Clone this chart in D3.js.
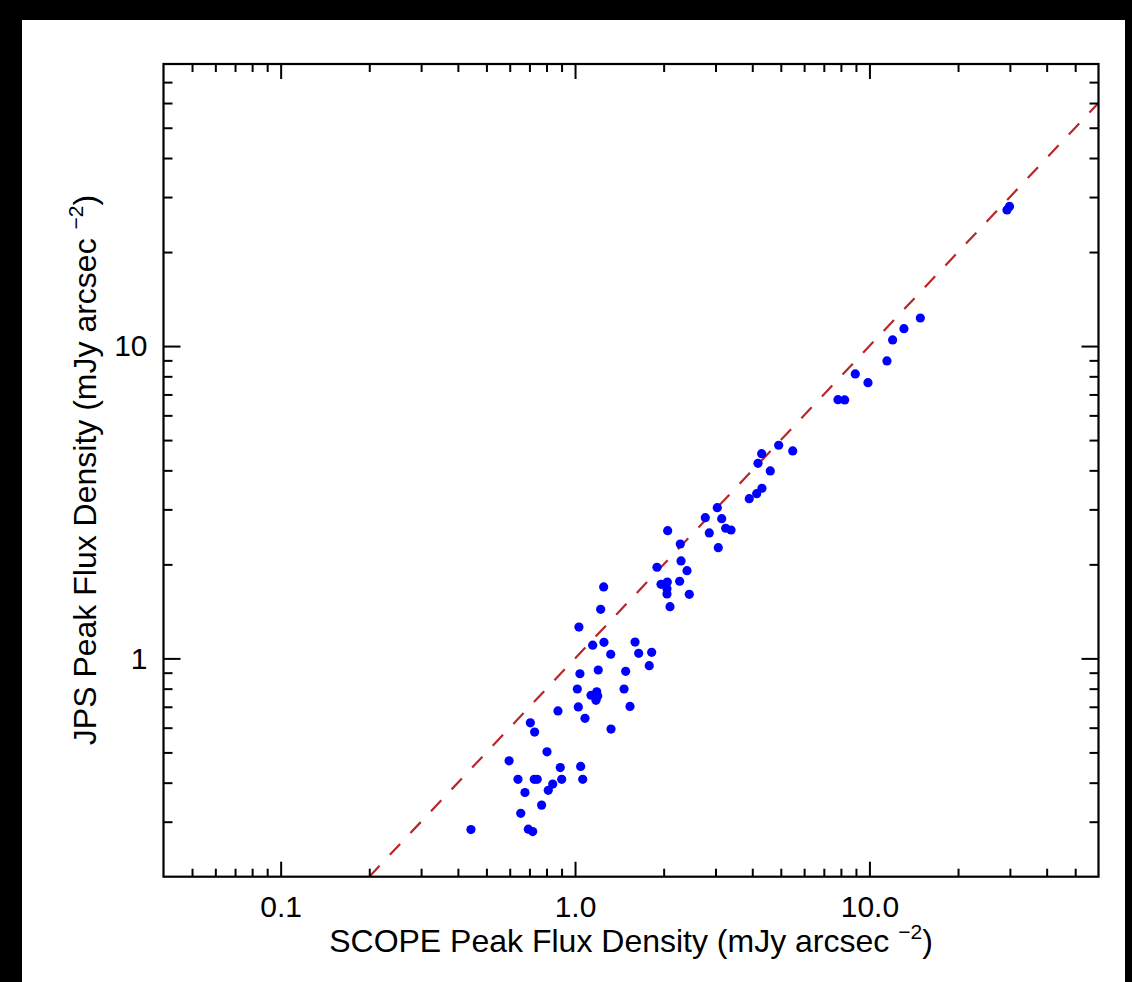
<!DOCTYPE html>
<html>
<head>
<meta charset="utf-8">
<script src="https://cdn.jsdelivr.net/npm/d3@7"></script>
<style>
  html, body { margin: 0; padding: 0; background: #000; }
  svg { display: block; }
  text { font-family: "Liberation Sans", Arial, Helvetica, sans-serif; fill: #000; }
</style>
</head>
<body>
<script>
// SCOPE peak flux density (x) vs JPS peak flux density (y), mJy arcsec^-2
var scopeFlux = [0.443, 0.597, 0.640, 0.654, 0.676, 0.694, 0.718, 0.705, 0.729, 0.727,
  0.744, 0.770, 0.803, 0.811, 0.840, 0.875, 0.891, 0.901, 1.018, 1.031,
  1.039, 1.026, 1.045, 1.062, 1.081, 1.133, 1.148, 1.185, 1.194, 1.178,
  1.199, 1.222, 1.251, 1.254, 1.322, 1.325, 1.467, 1.486, 1.537, 1.599,
  1.645, 1.787, 1.821, 1.898, 1.959, 2.058, 2.053, 2.053, 2.102, 2.064,
  2.267, 2.278, 2.291, 2.401, 2.444, 2.770, 2.858, 3.042, 3.066, 3.149,
  3.249, 3.387, 3.907, 4.140, 4.315, 4.183, 4.305, 4.605, 4.918, 5.488,
  7.820, 8.241, 8.954, 9.888, 11.47, 11.99, 13.10, 14.89, 29.33, 29.91];
var jpsFlux = [0.283, 0.470, 0.410, 0.319, 0.372, 0.284, 0.279, 0.622, 0.581, 0.410,
  0.410, 0.339, 0.502, 0.378, 0.396, 0.679, 0.447, 0.410, 0.798, 1.260,
  0.893, 0.699, 0.451, 0.410, 0.643, 0.762, 1.102, 0.782, 0.758, 0.734,
  0.918, 1.436, 1.693, 1.126, 1.031, 0.594, 0.798, 0.909, 0.702, 1.128,
  1.038, 0.948, 1.046, 1.958, 1.727, 1.756, 1.672, 1.608, 1.464, 2.564,
  1.766, 2.324, 2.051, 1.909, 1.604, 2.822, 2.521, 3.038, 2.262, 2.802,
  2.610, 2.577, 3.246, 3.368, 3.505, 4.214, 4.524, 3.982, 4.813, 4.615,
  6.736, 6.721, 8.141, 7.635, 8.960, 10.46, 11.37, 12.30, 27.28, 27.99];

// one-to-one line
var unityLine = [0.2, 60];

var xDomain = [0.04, 60];
var yDomain = [0.2, 80];
var xMajor = [0.1, 1, 10];
var xMinor = [0.05, 0.06, 0.07, 0.08, 0.09, 0.2, 0.3, 0.4, 0.5, 0.6, 0.7, 0.8, 0.9,
  2, 3, 4, 5, 6, 7, 8, 9, 20, 30, 40, 50];
var xLabels = ["0.1", "1.0", "10.0"];
var yMajor = [1, 10];
var yMinor = [0.3, 0.4, 0.5, 0.6, 0.7, 0.8, 0.9, 2, 3, 4, 5, 6, 7, 8, 9, 20, 30, 40, 50, 60, 70];
var yLabels = ["1", "10"];

var W = 1132, H = 982;
var plotL = 163.5, plotR = 1098.5, plotT = 64, plotB = 876.7;

var svg = d3.select("body").append("svg")
  .attr("width", W)
  .attr("height", H);

// black surround, white page
svg.append("rect").attr("width", W).attr("height", H).attr("fill", "#000");
svg.append("rect")
  .attr("x", 22).attr("y", 20)
  .attr("width", 1125 - 22).attr("height", H - 20)
  .attr("fill", "#fff");

var x = d3.scaleLog().domain(xDomain).range([plotL, plotR]);
var y = d3.scaleLog().domain(yDomain).range([plotB, plotT]);

svg.append("clipPath").attr("id", "plotclip")
  .append("rect")
  .attr("x", plotL).attr("y", plotT)
  .attr("width", plotR - plotL).attr("height", plotB - plotT);

// dashed y = x line
var line = d3.line()
  .x(function (d) { return x(d); })
  .y(function (d) { return y(d); });

svg.append("path")
  .datum(unityLine)
  .attr("clip-path", "url(#plotclip)")
  .attr("d", line)
  .attr("fill", "none")
  .attr("stroke", "#b8262a")
  .attr("stroke-width", 2.2)
  .attr("stroke-dasharray", "15,15");

// points
svg.append("g")
  .attr("clip-path", "url(#plotclip)")
  .selectAll("circle")
  .data(scopeFlux)
  .enter()
  .append("circle")
  .attr("cx", function (d) { return x(d); })
  .attr("cy", function (d, i) { return y(jpsFlux[i]); })
  .attr("r", 4.6)
  .attr("fill", "#0000ff");

// axes: major and minor ticks on every side, pointing inward
function styleAxis(g) {
  g.attr("font-family", null).attr("font-size", null);
  g.select(".domain").remove();
  g.selectAll(".tick line").attr("stroke", "#000").attr("stroke-width", 2);
  g.selectAll("text").style("font-size", "30px").attr("fill", "#000");
}

svg.append("g")
  .attr("transform", "translate(0," + plotB + ")")
  .call(d3.axisBottom(x).tickValues(xMajor).tickSize(-15).tickPadding(19)
    .tickFormat(function (d, i) { return xLabels[i]; }))
  .call(styleAxis);
svg.append("g")
  .attr("transform", "translate(0," + plotB + ")")
  .call(d3.axisBottom(x).tickValues(xMinor).tickSize(-8).tickFormat(""))
  .call(styleAxis);
svg.append("g")
  .attr("transform", "translate(0," + plotT + ")")
  .call(d3.axisTop(x).tickValues(xMajor).tickSize(-15).tickFormat(""))
  .call(styleAxis);
svg.append("g")
  .attr("transform", "translate(0," + plotT + ")")
  .call(d3.axisTop(x).tickValues(xMinor).tickSize(-8).tickFormat(""))
  .call(styleAxis);

svg.append("g")
  .attr("transform", "translate(" + plotL + ",0)")
  .call(d3.axisLeft(y).tickValues(yMajor).tickSize(-17).tickPadding(16)
    .tickFormat(function (d, i) { return yLabels[i]; }))
  .call(styleAxis);
svg.append("g")
  .attr("transform", "translate(" + plotL + ",0)")
  .call(d3.axisLeft(y).tickValues(yMinor).tickSize(-9).tickFormat(""))
  .call(styleAxis);
svg.append("g")
  .attr("transform", "translate(" + plotR + ",0)")
  .call(d3.axisRight(y).tickValues(yMajor).tickSize(-17).tickFormat(""))
  .call(styleAxis);
svg.append("g")
  .attr("transform", "translate(" + plotR + ",0)")
  .call(d3.axisRight(y).tickValues(yMinor).tickSize(-9).tickFormat(""))
  .call(styleAxis);

// frame
svg.append("rect")
  .attr("x", plotL).attr("y", plotT)
  .attr("width", plotR - plotL).attr("height", plotB - plotT)
  .attr("fill", "none")
  .attr("stroke", "#000")
  .attr("stroke-width", 2.2);

// axis titles
function unitTitle(sel, name) {
  sel.style("font-size", "32px");
  sel.append("tspan").text(name + " Peak Flux Density (mJy arcsec ");
  sel.append("tspan").attr("dy", -13).style("font-size", "21px").text("\u22122");
  sel.append("tspan").attr("dy", 13).text(")");
}

svg.append("text")
  .attr("x", 631).attr("y", 952)
  .attr("text-anchor", "middle")
  .call(unitTitle, "SCOPE");

svg.append("text")
  .attr("transform", "translate(96,470) rotate(-90)")
  .attr("text-anchor", "middle")
  .call(unitTitle, "JPS");
</script>
</body>
</html>
